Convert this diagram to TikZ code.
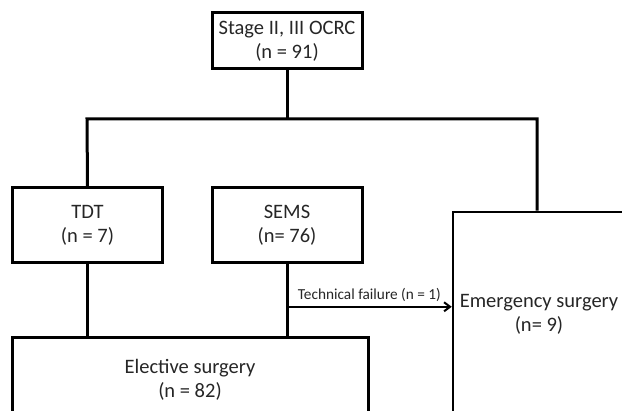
\documentclass[tikz,border=0pt]{standalone}
\usepackage{fontspec}
\setmainfont{Carlito}
\usetikzlibrary{positioning}
\usetikzlibrary{arrows.meta}

\begin{document}
\begin{tikzpicture}[x=1pt, y=-1pt,
	box/.style={draw, line width=3pt, align=center, inner sep=0pt, text=black!85,
		font=\fontsize{20.5}{24}\selectfont},
	link/.style={line width=3pt}]

	\clip (0,0) rectangle (622,411);

	\node[box, minimum width=150, minimum height=56] (stage) at (287,41) {Stage II, III OCRC\\(n = 91)};

	\foreach \x/\txt/\name in {87.5/TDT\\(n = 7)/tdt, 287/SEMS\\(n= 76)/sems}{
		\node[box, minimum width=150, minimum height=75] (\name) at (\x,225) {\txt};
	}

	\node[box, minimum width=356, minimum height=84] (elect) at (190,380) {Elective surgery\\(n = 82)};
	\node[box, line width=2.5pt, minimum width=172, minimum height=204] (emerg) at (539,314) {Emergency surgery\\(n= 9)};

	\coordinate (barL) at (87,119);
	\coordinate (barR) at (537,119);
	\path (sems.south) -- (sems.south |- elect.north) coordinate[pos=0.59] (fail);

	\draw[link] (stage.south) -- (stage.south |- barL);
	\draw[link] (tdt.north) -- (barL) -- (barR) -- (barR |- emerg.north);
	\draw[link] (tdt.south) -- (tdt.south |- elect.north);
	\draw[link] (sems.south) -- (sems.south |- elect.north);

	\draw[-{Straight Barb[length=6pt, width=9pt]}, line width=2pt] (fail) -- (emerg.west |- fail)
		node[midway, above, yshift=1pt, font=\fontsize{15.3}{17}\selectfont, text=black!85] {Technical failure (n = 1)};

\end{tikzpicture}
\end{document}
